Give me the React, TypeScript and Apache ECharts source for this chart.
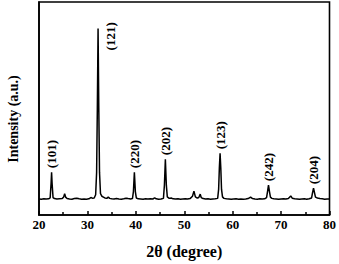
import React, { useEffect, useRef } from "react";
import * as echarts from "echarts";

const twoTheta: number[] = [
  20.0, 20.5, 21.0, 21.5, 22.0, 22.3, 22.5, 22.6, 22.7, 22.9, 23.2, 23.7, 24.2, 24.8, 25.1, 25.3, 25.5, 25.8,
  26.3, 26.8, 27.3, 27.8, 28.3, 28.8, 29.3, 29.8, 30.3, 30.7, 31.0, 31.4, 31.7, 31.9, 32.05, 32.2, 32.35, 32.5,
  32.7, 33.0, 33.3, 33.6, 34.0, 34.3, 34.6, 35.0, 35.5, 36.0, 36.5, 37.0, 37.5, 38.0, 38.4, 38.9, 39.3, 39.5,
  39.7, 39.9, 40.1, 40.5, 41.0, 41.5, 42.0, 42.5, 43.0, 43.5, 43.9, 44.2, 44.7, 45.2, 45.7, 45.9, 46.1, 46.3,
  46.5, 46.9, 47.3, 47.7, 48.2, 48.7, 49.2, 49.7, 50.2, 50.7, 51.2, 51.7, 52.0, 52.3, 52.7, 53.0, 53.3, 53.5,
  53.9, 54.4, 54.9, 55.4, 55.9, 56.4, 56.9, 57.1, 57.25, 57.4, 57.55, 57.7, 57.9, 58.2, 58.7, 59.2, 59.7, 60.2,
  60.7, 61.2, 61.7, 62.2, 62.7, 63.2, 63.7, 64.1, 64.6, 65.1, 65.6, 66.1, 66.6, 67.0, 67.2, 67.4, 67.6, 67.8,
  68.1, 68.5, 69.0, 69.5, 70.0, 70.5, 71.0, 71.5, 72.0, 72.3, 72.8, 73.3, 73.8, 74.3, 74.8, 75.3, 75.8, 76.3,
  76.5, 76.7, 76.9, 77.1, 77.5, 78.0, 78.5, 79.0, 79.5, 80.0,
];

const intensity: number[] = [
  75, 74, 76, 75, 76, 80, 150, 201, 150, 82, 77, 75, 76, 77, 85, 100, 84, 77,
  75, 74, 77, 79, 76, 74, 75, 74, 76, 82, 79, 80, 95, 200, 500, 876, 500, 200,
  100, 88, 84, 80, 78, 84, 78, 76, 75, 77, 75, 74, 76, 79, 77, 75, 77, 110,
  201, 110, 80, 76, 75, 74, 76, 75, 76, 75, 80, 76, 74, 75, 78, 140, 262, 140,
  85, 78, 80, 76, 75, 76, 74, 75, 76, 75, 77, 88, 112, 85, 79, 82, 98, 82,
  77, 75, 76, 74, 75, 76, 78, 120, 220, 290, 220, 120, 85, 78, 76, 75, 74, 75,
  76, 74, 75, 74, 75, 77, 84, 77, 75, 74, 76, 75, 76, 82, 110, 140, 110, 84,
  78, 76, 75, 74, 75, 76, 75, 77, 89, 79, 76, 75, 74, 75, 76, 74, 76, 80,
  105, 126, 105, 84, 80, 77, 76, 74, 75, 75,
];

const hkl: string[] = ["(101)", "(121)", "(220)", "(202)", "(123)", "(242)", "(204)"];
const peakPos: number[] = [22.6, 32.2, 39.7, 46.1, 57.4, 67.4, 76.7];
const peakInt: number[] = [201, 876, 201, 262, 290, 140, 126];

const xTicks: number[] = [20, 30, 40, 50, 60, 70, 80];

export default function App() {
  const ref = useRef<HTMLDivElement>(null);
  useEffect(() => {
    if (!ref.current) return;
    document.body.style.margin = "0";
    const chart = echarts.init(ref.current, undefined, { renderer: "svg" });
    const font = "Liberation Serif";
    const lineData = twoTheta.map((x, i) => [x, intensity[i]]);
    const labelData = peakPos.map((x, i) => [x, peakInt[i], i]);
    chart.setOption({
      animation: false,
      grid: {
        left: 39,
        top: 2,
        right: 8,
        bottom: 48,
        show: true,
        borderColor: "#000",
        borderWidth: 1.6,
        backgroundColor: "transparent",
      },
      xAxis: {
        type: "value",
        min: xTicks[0],
        max: xTicks[xTicks.length - 1],
        interval: 10,
        name: "2θ (degree)",
        nameLocation: "middle",
        nameGap: 28,
        nameTextStyle: { fontFamily: font, fontWeight: "bold", fontSize: 16, color: "#000" },
        axisLine: { show: true, lineStyle: { color: "#000", width: 1.6 } },
        axisTick: { show: true, inside: true, length: 4, lineStyle: { color: "#000", width: 1.5 } },
        minorTick: { show: true, splitNumber: 2, length: 3, lineStyle: { color: "#000", width: 1.5 } },
        axisLabel: { fontFamily: font, fontWeight: "bold", fontSize: 13, color: "#000", margin: 3 },
        splitLine: { show: false },
      },
      yAxis: {
        type: "value",
        min: 0,
        max: 1000,
        axisLine: { show: true, lineStyle: { color: "#000", width: 1.6 } },
        axisTick: { show: false },
        axisLabel: { show: false },
        splitLine: { show: false },
      },
      graphic: [
        {
          type: "text",
          x: 13,
          y: 119,
          rotation: Math.PI / 2,
          style: {
            text: "Intensity (a.u.)",
            font: `bold 14px ${font}`,
            fill: "#000",
            align: "center",
            verticalAlign: "middle",
          },
        },
      ],
      series: [
        {
          type: "line",
          data: lineData,
          showSymbol: false,
          symbol: "none",
          lineStyle: { color: "#000", width: 1.5 },
          z: 2,
        },
        {
          type: "custom",
          data: labelData,
          z: 3,
          renderItem: (params: any, api: any) => {
            const idx = api.value(2);
            const pt = api.coord([api.value(0), api.value(1)]);
            const isMain = hkl[idx] === "(121)";
            return {
              type: "text",
              x: isMain ? pt[0] + 12 : pt[0],
              y: isMain ? pt[1] + 22 : pt[1] - 4,
              rotation: Math.PI / 2,
              style: {
                text: hkl[idx],
                font: `bold 13px ${font}`,
                fill: "#000",
                align: "left",
                verticalAlign: "middle",
              },
            };
          },
        },
      ],
    });
    return () => chart.dispose();
  }, []);
  return <div ref={ref} style={{ width: 339, height: 264 }} />;
}
